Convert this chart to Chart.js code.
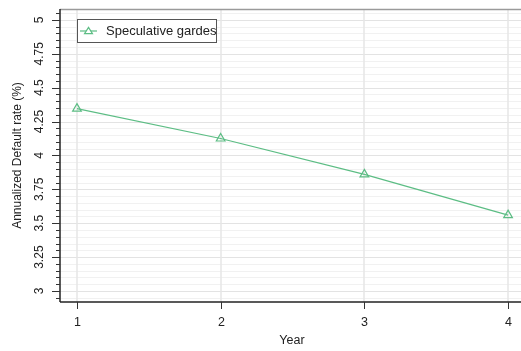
<!DOCTYPE html>
<html>
<head>
<meta charset="utf-8">
<script src="https://cdn.jsdelivr.net/npm/chart.js@4.4.1/dist/chart.umd.min.js"></script>
<style>
  html, body { margin: 0; padding: 0; background: #ffffff; overflow: hidden; }
  #wrap { width: 521px; height: 351px; }
  canvas { display: block; }
</style>
</head>
<body>
<div id="wrap"><canvas id="c" width="521" height="351"></canvas></div>
<script>
// Horizon (years) and annualized default rate for speculative grades
const years = [1, 2, 3, 4];
const defaultRate = [4.345, 4.125, 3.86, 3.56];
const seriesLabel = 'Speculative gardes';

// Axis tick labels
const yTickLabels = ['3', '3.25', '3.5', '3.75', '4', '4.25', '4.5', '4.75', '5'];
const xTickLabels = ['1', '2', '3', '4'];
const yMinorStep = 0.05;

const FONT = '"Liberation Sans", Arial, Helvetica, sans-serif';
const GREEN = '#5cbd84';

// Every y value that carries a grid line (labelled and minor ones)
function yGridValues(scale) {
  const out = [];
  const lo = Math.ceil(scale.min / yMinorStep - 1e-6);
  const hi = Math.floor(scale.max / yMinorStep + 1e-6);
  for (let i = lo; i <= hi; i++) out.push(+(i * yMinorStep).toFixed(4));
  return out;
}
const yMajorValues = yTickLabels.map(Number);
const isMajor = v => yMajorValues.some(m => Math.abs(m - v) < 1e-6);

function drawTriangle(ctx, cx, cy, r) {
  ctx.save();
  ctx.strokeStyle = GREEN;
  ctx.fillStyle = '#ffffff';
  ctx.lineWidth = 1.2;
  ctx.beginPath();
  ctx.moveTo(cx, cy - r);
  ctx.lineTo(cx + r * 1.1, cy + r * 0.75);
  ctx.lineTo(cx - r * 1.1, cy + r * 0.75);
  ctx.closePath();
  ctx.fill();
  ctx.stroke();
  ctx.restore();
}

// Horizontal grid lines between two x pixels
function drawHGrid(ctx, ys, x0, x1) {
  ctx.lineWidth = 1;
  yGridValues(ys).forEach(v => {
    const y = Math.round(ys.getPixelForValue(v)) + 0.5;
    ctx.strokeStyle = isMajor(v) ? '#e3e3e3' : '#f1f1f1';
    ctx.beginPath();
    ctx.moveTo(x0, y);
    ctx.lineTo(x1, y);
    ctx.stroke();
  });
}

// Background grid, drawn under the series
const plotGrid = {
  id: 'plotGrid',
  beforeDatasetsDraw(chart) {
    const ctx = chart.ctx;
    const a = chart.chartArea;
    const xs = chart.scales.x, ys = chart.scales.y;
    ctx.save();
    drawHGrid(ctx, ys, a.left, a.right + 6);
    ctx.strokeStyle = '#e6e6e6';
    ctx.lineWidth = 1.5;
    years.forEach(v => {
      const x = Math.round(xs.getPixelForValue(v));
      ctx.beginPath();
      ctx.moveTo(x, a.top);
      ctx.lineTo(x, a.bottom);
      ctx.stroke();
    });
    ctx.restore();
  }
};

// Axis lines, ticks, labels, titles and legend
const axisDecor = {
  id: 'axisDecor',
  afterDraw(chart) {
    const ctx = chart.ctx;
    const a = chart.chartArea;
    const xs = chart.scales.x, ys = chart.scales.y;
    ctx.save();

    // clean right margin strip of the plot, then lay its grid back in
    ctx.fillStyle = '#ffffff';
    ctx.fillRect(a.right - 6, a.top, 12, a.bottom - a.top);
    drawHGrid(ctx, ys, a.right - 7, a.right + 6);

    // frame: grey top line, dark left and bottom axes
    ctx.strokeStyle = '#9a9a9a';
    ctx.lineWidth = 1.5;
    ctx.beginPath();
    ctx.moveTo(a.left, a.top + 0.5);
    ctx.lineTo(a.right + 6, a.top + 0.5);
    ctx.stroke();

    ctx.strokeStyle = '#222222';
    ctx.lineWidth = 1.5;
    ctx.beginPath();
    ctx.moveTo(a.left, a.top);
    ctx.lineTo(a.left, a.bottom);
    ctx.stroke();
    ctx.beginPath();
    ctx.moveTo(a.left, a.bottom);
    ctx.lineTo(a.right + 6, a.bottom);
    ctx.stroke();

    // y tick marks
    ctx.strokeStyle = '#333333';
    ctx.lineWidth = 1;
    yGridValues(ys).forEach(v => {
      const y = Math.round(ys.getPixelForValue(v)) + 0.5;
      const len = isMajor(v) ? 8 : 4;
      ctx.beginPath();
      ctx.moveTo(a.left - len, y);
      ctx.lineTo(a.left, y);
      ctx.stroke();
    });

    // rotated y tick labels
    ctx.fillStyle = '#222222';
    ctx.font = '12px ' + FONT;
    ctx.textAlign = 'center';
    ctx.textBaseline = 'middle';
    yTickLabels.forEach(t => {
      const y = ys.getPixelForValue(Number(t));
      ctx.save();
      ctx.translate(40, y);
      ctx.rotate(-Math.PI / 2);
      ctx.fillText(t, 0, 0);
      ctx.restore();
    });

    // y axis title
    ctx.save();
    ctx.translate(18, (a.top + a.bottom) / 2);
    ctx.rotate(-Math.PI / 2);
    ctx.fillText('Annualized Default rate (%)', 0, 0);
    ctx.restore();

    // x tick marks and labels
    ctx.strokeStyle = '#333333';
    ctx.lineWidth = 1;
    ctx.font = '12.5px ' + FONT;
    years.forEach((v, i) => {
      const x = Math.round(xs.getPixelForValue(v)) + 0.5;
      ctx.beginPath();
      ctx.moveTo(x, a.bottom);
      ctx.lineTo(x, a.bottom + 7);
      ctx.stroke();
      ctx.fillText(xTickLabels[i], x, 322.5);
    });
    ctx.fillText('Year', 292, 341);

    // legend box
    const lx = 77, ly = 19, lw = 139, lh = 23;
    ctx.fillStyle = '#ffffff';
    ctx.fillRect(lx, ly, lw, lh);
    ctx.strokeStyle = '#555555';
    ctx.lineWidth = 1;
    ctx.strokeRect(lx + 0.5, ly + 0.5, lw, lh);
    ctx.strokeStyle = GREEN;
    ctx.lineWidth = 1.2;
    ctx.beginPath();
    ctx.moveTo(80, 31);
    ctx.lineTo(97, 31);
    ctx.stroke();
    drawTriangle(ctx, 88.5, 31, 3.6);
    ctx.fillStyle = '#222222';
    ctx.font = '13px ' + FONT;
    ctx.textAlign = 'left';
    ctx.fillText(seriesLabel, 106, 31.5);

    ctx.restore();
  }
};

new Chart(document.getElementById('c'), {
  type: 'line',
  data: {
    datasets: [{
      label: seriesLabel,
      data: years.map((x, i) => ({ x: x, y: defaultRate[i] })),
      borderColor: GREEN,
      borderWidth: 1.2,
      backgroundColor: 'rgba(255,255,255,0)',
      pointStyle: 'triangle',
      pointRadius: 5,
      pointBorderWidth: 1.2,
      pointBorderColor: GREEN,
      pointBackgroundColor: 'rgba(255,255,255,0)',
      tension: 0,
      fill: false
    }]
  },
  options: {
    responsive: false,
    animation: false,
    devicePixelRatio: 1,
    layout: { autoPadding: false, padding: { left: 60, top: 9, right: 0, bottom: 49 } },
    plugins: { legend: { display: false }, tooltip: { enabled: false } },
    scales: {
      x: { type: 'linear', display: false, min: 0.882, max: 4.09 },
      y: { type: 'linear', display: false, min: 2.919, max: 5.08 }
    }
  },
  plugins: [plotGrid, axisDecor]
});
</script>
</body>
</html>
